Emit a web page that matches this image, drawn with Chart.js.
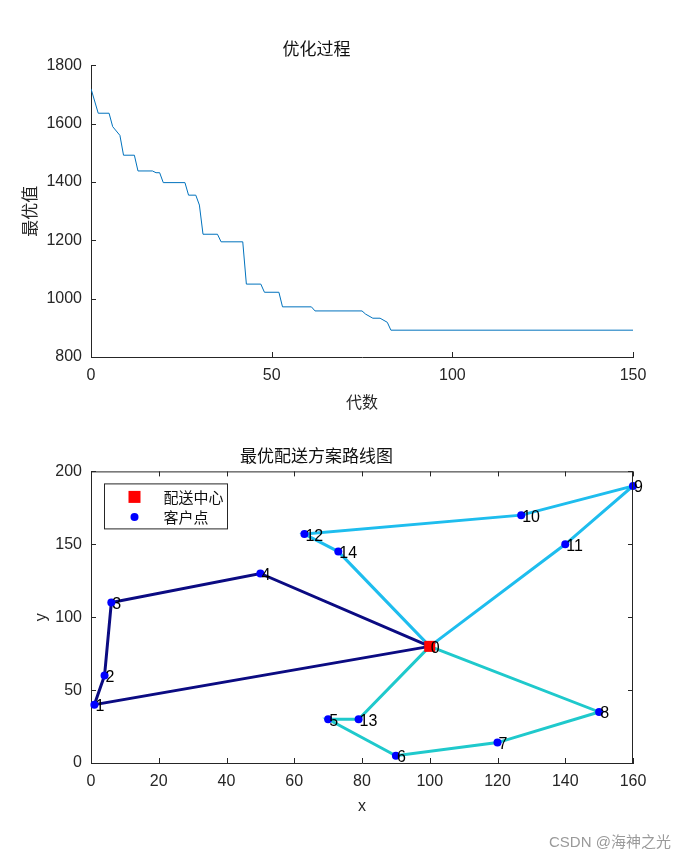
<!DOCTYPE html>
<html>
<head>
<meta charset="utf-8">
<script src="https://cdn.jsdelivr.net/npm/chart.js@4/dist/chart.umd.min.js"></script>
<style>
  body { margin: 0; background: #fff; width: 700px; height: 857px; position: relative; overflow: hidden; }
  #progress { position: absolute; left: 0; top: 0; }
  #routes { position: absolute; left: 0; top: 420px; }
  .mark { position: absolute; left: 549px; top: 830px; font: 15px "Liberation Sans", "Noto Sans CJK SC", sans-serif; color: #9a9a9a; }
</style>
</head>
<body>
<canvas id="progress" width="700" height="420"></canvas>
<canvas id="routes" width="700" height="437"></canvas>
<div class="mark">CSDN @海神之光</div>
<script>
// 优化过程: generation where the best value changes, and that value
const generations = [0, 2, 5, 6, 8, 9, 12, 13, 17, 18, 19, 20, 26, 27, 29, 30, 31, 35, 36, 42, 43, 47, 48, 52, 53, 61, 62, 75, 76, 78, 80, 82, 83, 150];
const bestValues = [1720, 1636, 1636, 1590, 1560, 1492, 1492, 1438, 1438, 1432, 1432, 1398, 1398, 1355, 1355, 1321, 1221, 1221, 1195, 1195, 1050, 1050, 1022, 1022, 972, 972, 958, 958, 947, 933, 933, 919, 892, 892];

// 最优配送方案: node 0 is the depot
const nodeIds = [0, 1, 2, 3, 4, 5, 6, 7, 8, 9, 10, 11, 12, 13, 14];
const nodeX = [100, 1, 4, 6, 50, 70, 90, 120, 150, 160, 127, 140, 63, 79, 73];
const nodeY = [80, 40, 60, 110, 130, 30, 5, 14, 35, 190, 170, 150, 157, 30, 145];
const routes = [
  [0, 4, 3, 2, 1, 0],
  [0, 14, 12, 10, 9, 11, 0],
  [0, 13, 5, 6, 7, 8, 0]
];
const legendNames = ['配送中心', '客户点'];

Chart.defaults.font.family = '"Liberation Sans", Arial, sans-serif';
Chart.defaults.font.size = 16;
Chart.defaults.color = '#262626';

const cjk = '"Noto Sans CJK SC", sans-serif';
const axisColor = '#262626';

// matlab style ticks pointing into the plot
const innerTicks = {
  id: 'innerTicks',
  afterDraw(chart, args, opts) {
    const { ctx, chartArea: a } = chart;
    const x = chart.scales.x, y = chart.scales.y;
    const len = 5;
    ctx.save();
    ctx.strokeStyle = axisColor;
    ctx.lineWidth = 1;
    ctx.beginPath();
    if (opts.box) {
      ctx.moveTo(a.left, a.top + 0.5); ctx.lineTo(a.right, a.top + 0.5);
      ctx.moveTo(a.right - 0.5, a.top); ctx.lineTo(a.right - 0.5, a.bottom);
    }
    x.ticks.forEach(t => {
      const px = Math.round(x.getPixelForValue(t.value)) + 0.5;
      ctx.moveTo(px, a.bottom); ctx.lineTo(px, a.bottom - len);
      if (opts.box) { ctx.moveTo(px, a.top); ctx.lineTo(px, a.top + len); }
    });
    y.ticks.forEach(t => {
      const py = Math.round(y.getPixelForValue(t.value)) + 0.5;
      ctx.moveTo(a.left, py); ctx.lineTo(a.left + len, py);
      if (opts.box) { ctx.moveTo(a.right, py); ctx.lineTo(a.right - len, py); }
    });
    ctx.stroke();
    ctx.restore();
  }
};

function axes(xMin, xMax, xStep, yMin, yMax, yStep, xTitle, yTitle) {
  const grid = { display: true, drawOnChartArea: false, drawTicks: false };
  const border = { display: true, color: axisColor, width: 1 };
  const plain = v => String(v);
  return {
    x: {
      type: 'linear', min: xMin, max: xMax,
      ticks: { stepSize: xStep, padding: 9, color: axisColor, callback: plain },
      grid, border, title: xTitle
    },
    y: {
      type: 'linear', min: yMin, max: yMax,
      ticks: { stepSize: yStep, padding: 9, color: axisColor, callback: plain },
      grid, border, title: yTitle
    }
  };
}

// ---------- top chart ----------
const topScales = axes(0, 150, 50, 800, 1800, 200,
  { display: true, text: '代数', font: { family: cjk, size: 16 }, color: '#262626', padding: { top: 0, bottom: 8 } },
  { display: true, text: '最优值', font: { family: cjk, size: 17 }, color: '#262626', padding: { top: 19, bottom: 0 } });
topScales.x.afterFit = s => { s.height = 63; };
topScales.y.afterFit = s => { s.width = 91; };

new Chart(document.getElementById('progress'), {
  type: 'scatter',
  data: {
    datasets: [{
      data: generations.map((g, i) => ({ x: g, y: bestValues[i] })),
      showLine: true,
      borderColor: '#0072BD',
      borderWidth: 1,
      pointRadius: 0,
      tension: 0
    }]
  },
  options: {
    responsive: false,
    animation: false,
    devicePixelRatio: 1,
    layout: { padding: { left: 0, right: 67, top: 0, bottom: 0 } },
    plugins: {
      legend: { display: false },
      tooltip: { enabled: false },
      title: {
        display: true, text: '优化过程', color: '#111',
        font: { family: cjk, size: 17, weight: 'normal' },
        padding: { top: 38, bottom: 7 }
      },
      innerTicks: { box: false }
    },
    scales: topScales
  },
  plugins: [innerTicks]
});

// ---------- bottom chart ----------
const nodeLabels = {
  id: 'nodeLabels',
  afterDraw(chart) {
    const { ctx } = chart;
    const x = chart.scales.x, y = chart.scales.y;
    ctx.save();
    ctx.font = '16px "Liberation Sans", Arial, sans-serif';
    ctx.fillStyle = '#000';
    ctx.textAlign = 'left';
    ctx.textBaseline = 'middle';
    nodeIds.forEach((id, i) => {
      ctx.fillText(String(id), x.getPixelForValue(nodeX[i]) + 1, y.getPixelForValue(nodeY[i]) + 2);
    });
    ctx.restore();
  }
};

const boxLegend = {
  id: 'boxLegend',
  afterDraw(chart) {
    const { ctx, chartArea: a } = chart;
    const bx = a.left + 13.5, by = a.top + 12.5, bw = 123, bh = 45;
    ctx.save();
    ctx.fillStyle = '#fff';
    ctx.fillRect(bx, by, bw, bh);
    ctx.strokeStyle = axisColor;
    ctx.lineWidth = 1;
    ctx.strokeRect(bx, by, bw, bh);
    // depot marker
    ctx.fillStyle = '#ff0000';
    ctx.fillRect(bx + 24, by + 7, 12, 12);
    // customer marker
    ctx.fillStyle = '#0000ff';
    ctx.beginPath();
    ctx.arc(bx + 30, by + 33, 4, 0, Math.PI * 2);
    ctx.fill();
    ctx.fillStyle = '#111';
    ctx.font = '15px ' + cjk;
    ctx.textBaseline = 'middle';
    ctx.fillText(legendNames[0], bx + 59, by + 13);
    ctx.fillText(legendNames[1], bx + 59, by + 33);
    ctx.restore();
  }
};

const routeColors = ['#0b0b82', '#1ebdee', '#1fc9cc'];
const routeSets = routes.map((r, k) => ({
  data: r.map(n => ({ x: nodeX[n], y: nodeY[n] })),
  showLine: true,
  borderColor: routeColors[k],
  borderWidth: 3,
  pointRadius: 0,
  tension: 0
}));

const botScales = axes(0, 160, 20, 0, 200, 50,
  { display: true, text: 'x', color: '#262626', padding: { top: 0, bottom: 41 } },
  { display: true, text: 'y', color: '#262626', padding: { top: 32, bottom: 0 } });
botScales.x.afterFit = s => { s.height = 94; };
botScales.y.afterFit = s => { s.width = 91; };

new Chart(document.getElementById('routes'), {
  type: 'scatter',
  data: {
    datasets: [
      {
        label: legendNames[0],
        data: [{ x: nodeX[0], y: nodeY[0] }],
        pointStyle: 'rect',
        pointRadius: 7.8,
        backgroundColor: '#ff0000',
        borderColor: '#ff0000',
        borderWidth: 0,
        clip: false
      },
      {
        label: legendNames[1],
        data: nodeIds.slice(1).map(n => ({ x: nodeX[n], y: nodeY[n] })),
        pointRadius: 4,
        backgroundColor: '#0000ff',
        borderWidth: 0,
        clip: false
      },
      ...routeSets
    ]
  },
  options: {
    responsive: false,
    animation: false,
    devicePixelRatio: 1,
    layout: { padding: { left: 0, right: 67, top: 0, bottom: 0 } },
    plugins: {
      legend: { display: false },
      tooltip: { enabled: false },
      title: {
        display: true, text: '最优配送方案路线图', color: '#111',
        font: { family: cjk, size: 17, weight: 'normal' },
        padding: { top: 25, bottom: 6 }
      },
      innerTicks: { box: true }
    },
    scales: botScales
  },
  plugins: [innerTicks, nodeLabels, boxLegend]
});
</script>
</body>
</html>
